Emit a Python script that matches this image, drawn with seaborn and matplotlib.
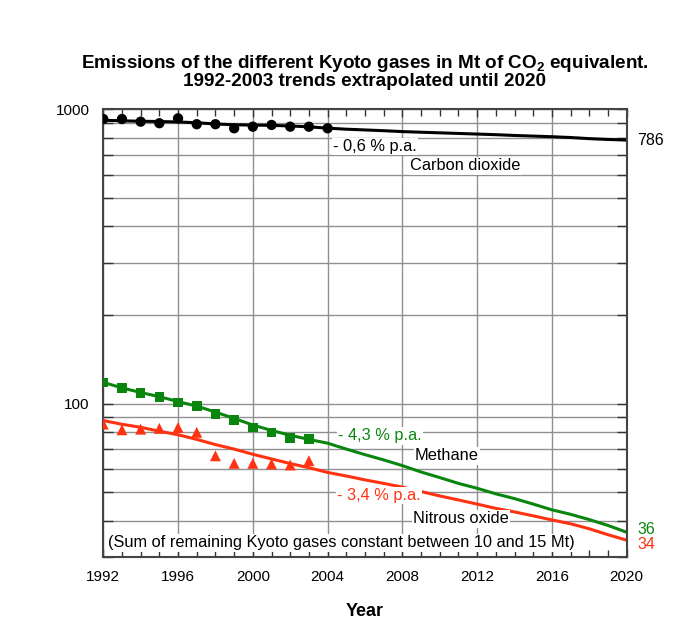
import matplotlib
matplotlib.use("Agg")
import matplotlib.pyplot as plt
import matplotlib.ticker as mticker
import pandas as pd
import seaborn as sns


# Observed emissions (Mt CO2 equivalent)
co2_years = list(range(1992, 2005))
co2_obs = [927, 927, 908, 897, 932, 890, 890, 862, 873, 885, 873, 873, 862]

obs_years = list(range(1992, 2004))
ch4_obs = [117.8, 112.7, 108.4, 105.3, 100.8, 98.1, 92.0, 88.0, 82.9, 79.8, 76.4, 75.7]
n2o_obs = [85.1, 81.4, 81.8, 82.3, 82.9, 79.8, 66.4, 62.6, 62.6, 62.3, 61.8, 63.9]

# Trend lines extrapolated until 2020
trend_years = list(range(1992, 2021))
co2_trend = [918, 914, 911, 909, 906, 900, 892, 886, 884, 882, 878, 872, 863,
             856, 851, 846, 840, 836, 832, 828, 824, 820, 815, 811, 807, 802,
             795, 790, 786]
ch4_trend = [118, 113, 109, 105.5, 101.5, 98, 93.5, 89, 84.5, 81, 78, 75.5,
             73.3, 70, 67, 64.3, 61.5, 58.5, 56, 53.5, 51.5, 49.3, 47.5, 45.5,
             43.5, 42, 40.3, 38.5, 36.5]
n2o_trend = [87.5, 85, 83, 80.5, 78.3, 75.5, 72.5, 70, 67.2, 64.8, 62.5, 60.5,
             58.3, 56.7, 55, 53.5, 52, 50.2, 48.5, 47, 45.5, 44, 42.8, 41.5,
             40.2, 39, 37.5, 35.8, 34.3]

end_labels = ["786", "36", "34"]
x_ticks = [1992, 1996, 2000, 2004, 2008, 2012, 2016, 2020]

GREEN = "#0a860f"
RED = "#ff3311"

sns.set_theme(style="white")
plt.rcParams["font.family"] = ["Liberation Sans", "DejaVu Sans"]
plt.rcParams["text.color"] = "black"
plt.rcParams["axes.labelcolor"] = "black"
plt.rcParams["mathtext.fontset"] = "custom"
plt.rcParams["mathtext.rm"] = "Liberation Sans"
plt.rcParams["mathtext.bf"] = "Liberation Sans:bold"

trend = pd.DataFrame({
    "year": trend_years,
    "co2": co2_trend,
    "ch4": ch4_trend,
    "n2o": n2o_trend,
})
co2_df = pd.DataFrame({"year": co2_years, "value": co2_obs})
obs = pd.DataFrame({"year": obs_years, "ch4": ch4_obs, "n2o": n2o_obs})

fig = plt.figure(figsize=(6.83, 6.42), dpi=100)
ax = fig.add_axes([0.1512, 0.1319, 0.7664, 0.6978])

# Trend lines
sns.lineplot(data=trend, x="year", y="co2", ax=ax, color="black", lw=2.2)
sns.lineplot(data=trend, x="year", y="ch4", ax=ax, color=GREEN, lw=2.2)
sns.lineplot(data=trend, x="year", y="n2o", ax=ax, color=RED, lw=2.2)

# Observed points
sns.scatterplot(data=co2_df, x="year", y="value", ax=ax, color="black",
                marker="o", s=55, edgecolor="none", zorder=5)
sns.scatterplot(data=obs, x="year", y="ch4", ax=ax, color=GREEN,
                marker="s", s=48, edgecolor="none", zorder=5)
sns.scatterplot(data=obs, x="year", y="n2o", ax=ax, color=RED,
                marker="^", s=62, edgecolor="none", zorder=5)

ax.set_yscale("log")
ax.set_xlim(1992, 2020)
ax.set_ylim(30, 1000)

ax.set_xticks(x_ticks)
ax.xaxis.set_minor_locator(mticker.MultipleLocator(1))
ax.yaxis.set_major_locator(mticker.FixedLocator([100, 1000]))
ax.yaxis.set_major_formatter(mticker.FixedFormatter(["100", "1000"]))
ax.yaxis.set_minor_locator(mticker.LogLocator(base=10, subs=range(2, 10)))
ax.yaxis.set_minor_formatter(mticker.NullFormatter())

ax.grid(True, which="major", axis="x", color="#909090", lw=1.0)
ax.grid(True, which="both", axis="y", color="#909090", lw=1.0)

ax.tick_params(axis="both", which="both", direction="in", top=True,
               right=True, bottom=True, left=True, colors="#333333",
               labelcolor="black", labelsize=11)
ax.tick_params(axis="x", which="major", length=6, width=1, pad=9)
ax.tick_params(axis="x", which="minor", length=5, width=1)
ax.tick_params(axis="y", which="both", length=7, width=1, pad=10)

for spine in ax.spines.values():
    spine.set_color("#444444")
    spine.set_linewidth(1.5)

ax.set_xlabel("Year", fontsize=13, fontweight="bold", labelpad=14)
ax.set_ylabel("")

# Annotations
fs = 11.8
box = dict(facecolor="white", edgecolor="none", pad=1)
ax.text(2004.28, 747, "- 0,6 % p.a.", fontsize=fs, va="center", ha="left",
        bbox=box)
ax.text(2008.4, 642, "Carbon dioxide", fontsize=fs, va="center", ha="left",
        bbox=box)
ax.text(2004.56, 77.6, "- 4,3 % p.a.", fontsize=fs, color=GREEN,
        va="center", ha="left", bbox=box)
ax.text(2008.68, 66.4, "Methane", fontsize=fs, va="center", ha="left",
        bbox=box)
ax.text(2004.5, 48.6, "- 3,4 % p.a.", fontsize=fs, color=RED, va="center",
        ha="left", bbox=box)
ax.text(2008.57, 40.5, "Nitrous oxide", fontsize=fs, va="center", ha="left",
        bbox=box)
ax.text(1992.25, 33.6,
        "(Sum of remaining Kyoto gases constant between 10 and 15 Mt)",
        fontsize=fs, va="center", ha="left", bbox=box, zorder=6)

ax.text(2020.55, co2_trend[-1], end_labels[0], fontsize=11.5, va="center",
        ha="left", clip_on=False)
ax.text(2020.55, 37.3, end_labels[1], fontsize=11.5, color=GREEN,
        va="center", ha="left", clip_on=False)
ax.text(2020.55, 33.1, end_labels[2], fontsize=11.5, color=RED, va="center",
        ha="left", clip_on=False)

# Title
fig.text(0.534, 1 - 64 / 642,
         r"Emissions of the different Kyoto gases in Mt of CO$_\mathbf{2}$ equivalent.",
         fontsize=13.6, fontweight="bold", ha="center", va="center")
fig.text(0.534, 1 - 82 / 642, "1992-2003 trends extrapolated until 2020",
         fontsize=13.6, fontweight="bold", ha="center", va="center")

fig.savefig("out.png", dpi=100)
plt.close(fig)
